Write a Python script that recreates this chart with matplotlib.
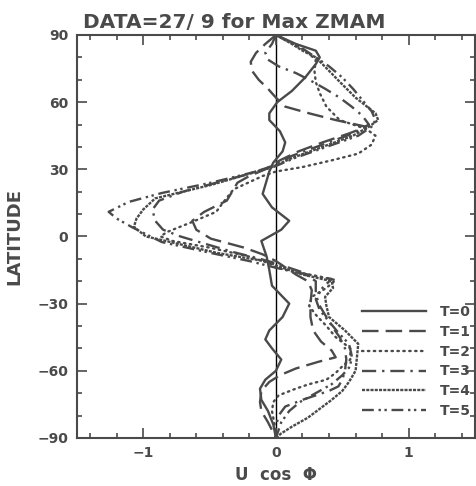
import matplotlib
matplotlib.use('Agg')
import matplotlib.pyplot as plt
from matplotlib.ticker import MultipleLocator

# curves: (latitude, U cos phi) pairs, north -> south
lat_t0 = [90, 86, 83, 80, 77, 71, 65, 60, 55, 52, 47, 42, 38, 33, 29, 25, 19, 13, 7, 3,
          -2, -9, -15, -22, -30, -36, -42, -46, -50, -55, -60, -64, -68, -73, -78, -84, -90]
u_t0 = [0.0, 0.15, 0.30, 0.33, 0.30, 0.22, 0.12, 0.01, -0.05, -0.05, 0.03, 0.07, 0.05, -0.02, -0.05, -0.07, -0.10, -0.03, 0.10, 0.04,
        -0.11, -0.07, -0.05, -0.03, 0.10, 0.05, -0.05, -0.08, -0.03, 0.04, 0.0, -0.08, -0.12, -0.11, -0.06, -0.02, 0.0]

lat_t1 = [90, 86, 82, 78, 74, 70, 66, 62, 58, 55, 52, 49, 46, 42, 38, 34, 30, 27, 24, 20, 16, 11, 7, 3,
          -1, -5, -8, -11, -13, -17, -20, -24, -30, -36, -42, -47, -51, -54, -56, -59, -62, -65, -69, -74, -78, -83, -90]
u_t1 = [0.0, -0.08, -0.15, -0.19, -0.18, -0.13, -0.06, 0.0, 0.07, 0.25, 0.45, 0.68, 0.55, 0.35, 0.17, 0.03, -0.08, -0.2, -0.29, -0.33, -0.37, -0.54, -0.63, -0.60,
        -0.49, -0.24, -0.10, 0.0, 0.05, 0.15, 0.24, 0.27, 0.26, 0.26, 0.28, 0.34, 0.42, 0.45, 0.32, 0.15, 0.03, -0.05, -0.11, -0.12, -0.11, -0.06, 0.0]

lat_t2 = [90, 87, 83, 79, 74, 69, 64, 58, 52, 48, 45, 41, 37, 34, 31, 29, 27, 21, 15, 11, 6, 2, 0,
          -2, -5, -9, -12, -14, -17, -19.5, -23, -27, -31, -35, -40, -45, -50, -55, -58, -61, -64, -66, -68, -71, -74, -78, -84, -90]
u_t2 = [0.0, 0.10, 0.22, 0.30, 0.29, 0.30, 0.33, 0.38, 0.48, 0.68, 0.75, 0.72, 0.62, 0.42, 0.20, 0.0, -0.10, -0.32, -0.40, -0.45, -0.65, -0.82, -0.87,
        -0.78, -0.50, -0.20, -0.05, 0.0, 0.25, 0.45, 0.38, 0.27, 0.25, 0.30, 0.38, 0.45, 0.56, 0.56, 0.50, 0.45, 0.38, 0.25, 0.15, 0.02, -0.02, -0.03, -0.01, 0.0]

lat_t3 = [90, 86, 82, 79, 76, 73, 70, 66, 62, 58, 54, 50, 46, 41, 36, 32, 28, 24, 20, 16, 12, 7, 3, 0,
          -3, -7, -10, -12, -16, -20, -25, -30, -35, -40, -45, -50, -55, -60, -64, -67, -69, -71, -73, -76, -80, -85, -90]
u_t3 = [0.0, -0.03, -0.08, -0.06, 0.02, 0.15, 0.25, 0.37, 0.48, 0.57, 0.65, 0.70, 0.58, 0.35, 0.12, 0.0, -0.20, -0.45, -0.70, -0.88, -0.93, -0.91, -0.85, -0.72,
        -0.55, -0.32, -0.12, 0.0, 0.20, 0.30, 0.30, 0.32, 0.37, 0.42, 0.48, 0.52, 0.53, 0.52, 0.50, 0.47, 0.40, 0.30, 0.20, 0.07, 0.02, 0.0, 0.0]

lat_t4 = [90, 86, 83, 80, 74, 68.5, 62, 55, 52, 49, 45, 40, 35, 31, 28, 23, 17, 12, 8, 4.3, 0,
          -1.6, -7.4, -11.4, -13, -17, -20, -23, -27, -31, -36, -42, -48, -54, -60, -65, -69, -73, -77, -81, -85, -88, -90]
u_t4 = [0.0, 0.12, 0.20, 0.30, 0.40, 0.49, 0.60, 0.75, 0.77, 0.70, 0.58, 0.35, 0.12, -0.03, -0.20, -0.49, -0.91, -1.00, -1.05, -1.07, -0.98,
        -0.86, -0.44, -0.05, 0.0, 0.20, 0.42, 0.43, 0.37, 0.38, 0.40, 0.52, 0.62, 0.61, 0.60, 0.55, 0.50, 0.42, 0.33, 0.24, 0.12, 0.04, 0.0]

lat_t5 = [90, 87, 84, 80, 76, 71, 66, 61, 56, 52, 49, 45, 40, 35, 31, 27.5, 24, 19.4, 15.4, 11, 8, 4,
          -2.5, -7.4, -11, -14, -16, -19, -23, -28, -33, -38, -43, -48, -53, -58, -62, -66, -70, -74, -78, -83, -90]
u_t5 = [0.0, 0.10, 0.20, 0.30, 0.40, 0.50, 0.58, 0.65, 0.72, 0.75, 0.72, 0.62, 0.38, 0.14, -0.02, -0.25, -0.49, -0.86, -1.11, -1.26, -1.20, -1.08,
        -0.86, -0.49, -0.20, 0.0, 0.15, 0.42, 0.35, 0.30, 0.33, 0.40, 0.47, 0.55, 0.57, 0.56, 0.50, 0.42, 0.30, 0.18, 0.10, 0.04, 0.0]

labels = ['T=0', 'T=1', 'T=2', 'T=3', 'T=4', 'T=5']
title = 'DATA=27/ 9 for Max ZMAM'

ink = '#4a4a4a'
plt.rcParams['font.family'] = ['DejaVu Sans']

fig = plt.figure(figsize=(4.77, 4.86), dpi=100)
ax = fig.add_axes([0.161, 0.099, 0.835, 0.829])

lw = 1.7
styles = [
    dict(linestyle='-'),
    dict(dashes=(7, 3)),
    dict(dashes=(0.6, 1.9), dash_capstyle='round'),
    dict(dashes=(6, 2.5, 1, 2.5)),
    dict(dashes=(1.3, 0.5)),
    dict(dashes=(5, 2, 1, 1.5, 1, 2)),
]
series = [(u_t0, lat_t0), (u_t1, lat_t1), (u_t2, lat_t2), (u_t3, lat_t3), (u_t4, lat_t4), (u_t5, lat_t5)]
for (u, lat), st, lab in zip(series, styles, labels):
    ax.plot(u, lat, color=ink, lw=lw, label=lab, **st)

ax.axvline(0, color='black', lw=1.0, zorder=1)

ax.set_xlim(-1.5, 1.5)
ax.set_ylim(-90, 90)
ax.xaxis.set_major_locator(MultipleLocator(1))
ax.xaxis.set_minor_locator(MultipleLocator(0.2))
ax.yaxis.set_major_locator(MultipleLocator(30))
ax.yaxis.set_minor_locator(MultipleLocator(10))
ax.tick_params(which='both', direction='in', top=True, right=True, color=ink,
               labelcolor=ink, labelsize=10, width=1.2)
ax.tick_params(which='major', length=7, pad=6)
ax.tick_params(which='minor', length=3.5)
for lbl in ax.get_xticklabels() + ax.get_yticklabels():
    lbl.set_fontweight('bold')
for sp in ax.spines.values():
    sp.set_color(ink)
    sp.set_linewidth(1.5)

ax.set_title(title, color=ink, fontsize=14.5, fontweight='bold', pad=5, loc='left', x=0.015)
ax.set_ylabel('LATITUDE', color=ink, fontsize=13, fontweight='bold', labelpad=10)
ax.set_xlabel('U  cos  Φ', color=ink, fontsize=12, fontweight='bold', labelpad=4)

leg = ax.legend(loc='lower right', bbox_to_anchor=(1.02, 0.018), frameon=False,
                handlelength=4.6, handletextpad=1.0, labelspacing=0.42,
                prop=dict(size=10, weight='bold'))
for t in leg.get_texts():
    t.set_color(ink)

fig.savefig('out.png', dpi=100)
